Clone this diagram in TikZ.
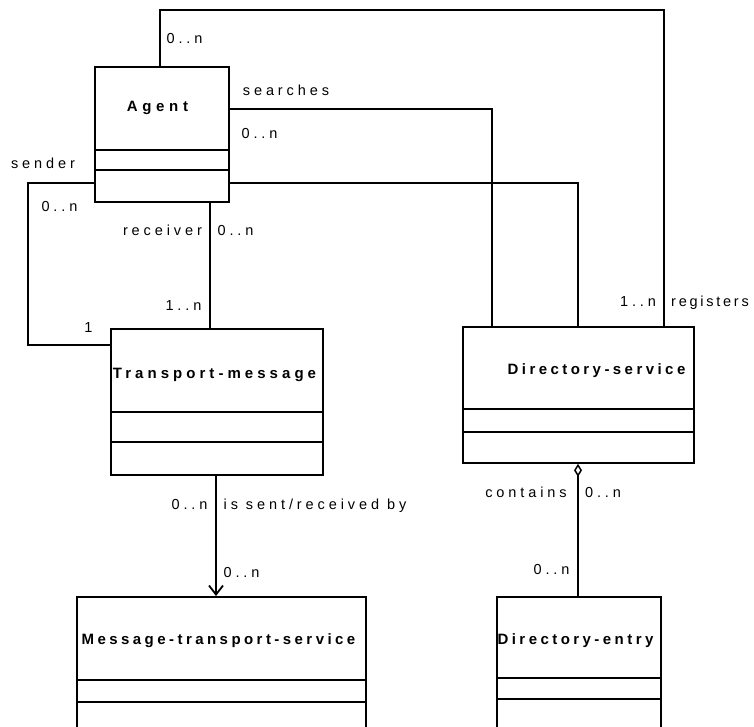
\documentclass[tikz,border=0pt]{standalone}
\usepackage{fontspec}
\setmainfont{Liberation Sans}
\newfontfamily\labfont[LetterSpace=27]{Liberation Sans}
\newfontfamily\labfontn[LetterSpace=19]{Liberation Sans}
\newfontfamily\ttlfont[LetterSpace=23]{Liberation Sans}
\newfontfamily\ttlfontw[LetterSpace=27]{Liberation Sans}
\newfontfamily\ttlfontx[LetterSpace=31]{Liberation Sans}
\usetikzlibrary{arrows.meta}
\tikzset{
  umlbox/.style={draw, line width=1.8pt, rectangle, inner sep=0pt, anchor=north west},
  lab/.style={font=\labfont\fontsize{14.5}{16}\selectfont, inner sep=0pt, anchor=base},
  labn/.style={lab, font=\labfontn\fontsize{14.5}{16}\selectfont},
  ttl/.style={font=\ttlfont\fontsize{15}{17}\selectfont\bfseries, inner sep=0pt, anchor=base},
  ttlw/.style={ttl, font=\ttlfontw\fontsize{15}{17}\selectfont\bfseries},
  ttlx/.style={ttl, font=\ttlfontx\fontsize{15}{17}\selectfont\bfseries},
  conn/.style={line width=1.8pt},
}
\begin{document}
\begin{tikzpicture}[x=1pt,y=-1pt]
\clip (0,0) rectangle (754,727);
\fill[white] (0,0) rectangle (754,727);
% boxes
\node[umlbox, minimum width=134pt, minimum height=135pt] (agent) at (94,66) {};
\node[umlbox, minimum width=212pt, minimum height=146pt] (tm) at (110,328) {};
\node[umlbox, minimum width=231pt, minimum height=136pt] (ds) at (462,326) {};
\node[umlbox, minimum width=289pt, minimum height=160pt] (mts) at (76,596) {};
\node[umlbox, minimum width=164pt, minimum height=160pt] (de) at (496,596) {};
% dividers
\coordinate (ag1) at (0,150); \coordinate (ag2) at (0,170);
\draw[conn] (agent.west |- ag1) -- (agent.east |- ag1);
\draw[conn] (agent.west |- ag2) -- (agent.east |- ag2);
\coordinate (tm1) at (0,412); \coordinate (tm2) at (0,442);
\draw[conn] (tm.west |- tm1) -- (tm.east |- tm1);
\draw[conn] (tm.west |- tm2) -- (tm.east |- tm2);
\coordinate (ds1) at (0,409); \coordinate (ds2) at (0,432);
\draw[conn] (ds.west |- ds1) -- (ds.east |- ds1);
\draw[conn] (ds.west |- ds2) -- (ds.east |- ds2);
\coordinate (mt1) at (0,680); \coordinate (mt2) at (0,702);
\draw[conn] (mts.west |- mt1) -- (mts.east |- mt1);
\draw[conn] (mts.west |- mt2) -- (mts.east |- mt2);
\coordinate (de1) at (0,678); \coordinate (de2) at (0,699);
\draw[conn] (de.west |- de1) -- (de.east |- de1);
\draw[conn] (de.west |- de2) -- (de.east |- de2);
% titles
\node[ttlx] (tagent) at (157.5,112) {Agent};
\node[ttlw] (ttm) at (214.5,378) {Transport-message};
\node[ttl] (tds) at (596.5,374) {Directory-service};
\node[ttl] (tmts) at (218.5,644) {Message-transport-service};
\node[ttl] (tde) at (575.5,644) {Directory-entry};
% connectors
\coordinate (t1) at (160,10); \coordinate (t2) at (664,10);
\draw[conn] (agent.north -| t1) -- (t1) -- (t2) -- (ds.north -| t2);
\coordinate (s1) at (492,109);
\draw[conn] (agent.east |- s1) -- (s1) -- (ds.north -| s1);
\coordinate (u1) at (578,183);
\draw[conn] (agent.east |- u1) -- (u1) -- (ds.north -| u1);
\coordinate (l1) at (28,183); \coordinate (l2) at (28,345);
\draw[conn] (agent.west |- l1) -- (l1) -- (l2) -- (tm.west |- l2);
\coordinate (r1) at (210,0);
\draw[conn] (agent.south -| r1) -- (tm.north -| r1);
\coordinate (a1) at (216,0);
\draw[conn, -{Straight Barb[length=9pt,width=14pt,line width=1.8pt]}] (tm.south -| a1) -- (mts.north -| a1);
\coordinate (d1) at (578,0);
\draw[conn, {Diamond[open,length=13pt,width=8pt,line width=1.5pt]}-] (ds.south -| d1) -- (de.north -| d1);
% labels
\node[lab] (m1) at (184.5,44) {0..n};
\node[lab] (m2) at (286,96) {searches};
\node[lab] (m3) at (259.5,139) {0..n};
\node[lab] (m4) at (43,169) {sender};
\node[lab] (m5) at (59.5,212) {0..n};
\node[lab] (m6) at (162.5,236) {receiver};
\node[lab] (m7) at (235.5,236) {0..n};
\node[lab] (m8) at (183.5,310) {1..n};
\node[lab] (m9) at (88.5,332) {1};
\node[lab] (m10) at (638,306) {1..n};
\node[labn, anchor=base west] (m11) at (671,306) {registers};
\node[lab] (m12) at (526,497) {contains};
\node[lab] (m13) at (603,497) {0..n};
\node[lab] (m14) at (551.5,574) {0..n};
\node[lab] (m15) at (189.5,509) {0..n};
\node[lab] (m16) at (315,509) {is sent/received by};
\node[lab] (m17) at (241.5,577) {0..n};
\end{tikzpicture}
\end{document}
